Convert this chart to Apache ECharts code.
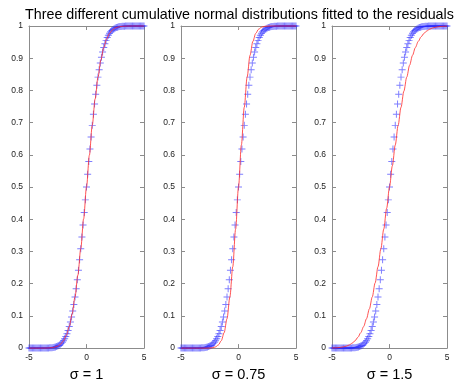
<!DOCTYPE html>
<html>
<head>
<meta charset="utf-8">
<script src="https://cdn.jsdelivr.net/npm/echarts@6/dist/echarts.min.js"></script>
<style>html,body{margin:0;padding:0;background:#fff}#c{width:454px;height:387px}</style>
</head>
<body>
<div id="c"></div>
<script>
// Residuals' cumulative distribution (blue +), sampled on x grid
const blueX = [-5,-4.9,-4.8,-4.7,-4.6,-4.5,-4.4,-4.3,-4.2,-4.1,-4,-3.9,-3.8,-3.7,-3.6,-3.5,-3.4,-3.3,-3.2,-3.1,-3,-2.9,-2.8,-2.7,-2.6,-2.5,-2.4,-2.3,-2.2,-2.1,-2,-1.9,-1.8,-1.7,-1.6,-1.5,-1.4,-1.3,-1.2,-1.1,-1,-0.9,-0.8,-0.7,-0.6,-0.5,-0.4,-0.3,-0.2,-0.1,0,0.1,0.2,0.3,0.4,0.5,0.6,0.7,0.8,0.9,1,1.1,1.2,1.3,1.4,1.5,1.6,1.7,1.8,1.9,2,2.1,2.2,2.3,2.4,2.5,2.6,2.7,2.8,2.9,3,3.1,3.2,3.3,3.4,3.5,3.6,3.7,3.8,3.9,4,4.1,4.2,4.3,4.4,4.5,4.6,4.7,4.8,4.9,5];
const blueY = [0,0,0,0,0,0,0,0,0,0,0,0,0.0001,0.0001,0.0002,0.0002,0.0003,0.0005,0.0007,0.0010,0.0013,0.0019,0.0026,0.0035,0.0047,0.0062,0.0082,0.0107,0.0139,0.0179,0.0228,0.0287,0.0359,0.0446,0.0548,0.0668,0.0808,0.0968,0.1151,0.1357,0.1587,0.1841,0.2119,0.2420,0.2743,0.3085,0.3446,0.3821,0.4207,0.4602,0.5,0.5398,0.5793,0.6179,0.6554,0.6915,0.7257,0.7580,0.7881,0.8159,0.8413,0.8643,0.8849,0.9032,0.9192,0.9332,0.9452,0.9554,0.9641,0.9713,0.9772,0.9821,0.9861,0.9893,0.9918,0.9938,0.9953,0.9965,0.9974,0.9981,0.9987,0.9990,0.9993,0.9995,0.9997,0.9998,0.9998,0.9999,0.9999,1,1,1,1,1,1,1,1,1,1,1,1];

// Fitted cumulative normal curves (red)
const redX = [-5,-4.75,-4.5,-4.25,-4,-3.75,-3.5,-3.25,-3,-2.75,-2.5,-2.25,-2,-1.75,-1.5,-1.25,-1,-0.75,-0.5,-0.25,0,0.25,0.5,0.75,1,1.25,1.5,1.75,2,2.25,2.5,2.75,3,3.25,3.5,3.75,4,4.25,4.5,4.75,5];
const redSigma1 = [0,0,0,0,0,0.0001,0.0002,0.0006,0.0013,0.0030,0.0062,0.0122,0.0228,0.0401,0.0668,0.1056,0.1587,0.2266,0.3085,0.4013,0.5,0.5987,0.6915,0.7734,0.8413,0.8944,0.9332,0.9599,0.9772,0.9878,0.9938,0.9970,0.9987,0.9994,0.9998,0.9999,1,1,1,1,1];
const redSigma075 = [0,0,0,0,0,0,0,0,0,0.0001,0.0004,0.0013,0.0038,0.0098,0.0228,0.0478,0.0912,0.1587,0.2525,0.3694,0.5,0.6306,0.7475,0.8413,0.9088,0.9522,0.9772,0.9902,0.9962,0.9987,0.9996,0.9999,1,1,1,1,1,1,1,1,1];
const redSigma15 = [0.0004,0.0008,0.0013,0.0023,0.0038,0.0062,0.0098,0.0151,0.0228,0.0334,0.0478,0.0668,0.0912,0.1217,0.1587,0.2023,0.2525,0.3085,0.3694,0.4338,0.5,0.5662,0.6306,0.6915,0.7475,0.7977,0.8413,0.8783,0.9088,0.9332,0.9522,0.9666,0.9772,0.9849,0.9902,0.9938,0.9962,0.9977,0.9987,0.9992,0.9996];

const panelLabels = ['σ = 1', 'σ = 0.75', 'σ = 1.5'];
const redCurves = [redSigma1, redSigma075, redSigma15];
const titleText = 'Three different cumulative normal distributions fitted to the residuals';

const FONT = '"Liberation Sans", Arial, Helvetica, sans-serif';
const AXC = '#8c8c8c';
const gridLefts = [29, 181, 332];

const grids = [], xAxes = [], yAxes = [], series = [];
const plus = 'path://M0,4.3H10V5.7H0Z M4.3,0H5.7V10H4.3Z';

gridLefts.forEach((l, g) => {
  grids.push({left: l, width: 115, top: 26, height: 329, show: false});
  const axLine = {show: true, onZero: false, lineStyle: {color: AXC, width: 1}};
  const tick = {show: true, inside: true, length: 4, lineStyle: {color: AXC}};
  xAxes.push({
    gridIndex: g, type: 'value', min: -5, max: 5, interval: 5, position: 'bottom',
    axisLine: axLine, axisTick: tick, splitLine: {show: false},
    axisLabel: {fontSize: 8.5, color: '#222', margin: 5, fontFamily: FONT},
    name: panelLabels[g], nameLocation: 'middle', nameGap: 15,
    nameTextStyle: {fontSize: 14.5, color: '#000', fontFamily: FONT}
  });
  xAxes.push({
    gridIndex: g, type: 'value', min: -5, max: 5, interval: 5, position: 'top',
    axisLine: axLine, axisTick: tick, splitLine: {show: false}, axisLabel: {show: false}
  });
  yAxes.push({
    gridIndex: g, type: 'value', min: 0, max: 1, interval: 0.1, position: 'left',
    axisLine: axLine, axisTick: tick, splitLine: {show: false},
    axisLabel: {fontSize: 8.5, color: '#222', margin: 6, fontFamily: FONT}
  });
  yAxes.push({
    gridIndex: g, type: 'value', min: 0, max: 1, interval: 0.1, position: 'right',
    axisLine: axLine, axisTick: tick, splitLine: {show: false}, axisLabel: {show: false}
  });
  series.push({
    type: 'scatter', xAxisIndex: g * 2, yAxisIndex: g * 2, clip: false,
    symbol: plus, symbolSize: 7, z: 2,
    itemStyle: {color: 'rgba(40,40,255,0.75)'},
    data: blueX.map((x, i) => [x, blueY[i]])
  });
  series.push({
    type: 'line', xAxisIndex: g * 2, yAxisIndex: g * 2, clip: false,
    showSymbol: false, symbol: 'none', smooth: 0.3, smoothMonotone: 'x', z: 3,
    lineStyle: {color: 'rgba(255,40,40,0.8)', width: 1},
    data: redX.map((x, i) => [x, redCurves[g][i]])
  });
});

const chart = echarts.init(document.getElementById('c'), null, {renderer: 'canvas'});
chart.setOption({
  animation: false,
  backgroundColor: '#fff',
  title: {text: titleText, left: 20, top: 3,
    textStyle: {fontSize: 14.3, fontWeight: 'normal', color: '#000', fontFamily: FONT}},
  grid: grids, xAxis: xAxes, yAxis: yAxes, series: series
});
</script>
</body>
</html>
